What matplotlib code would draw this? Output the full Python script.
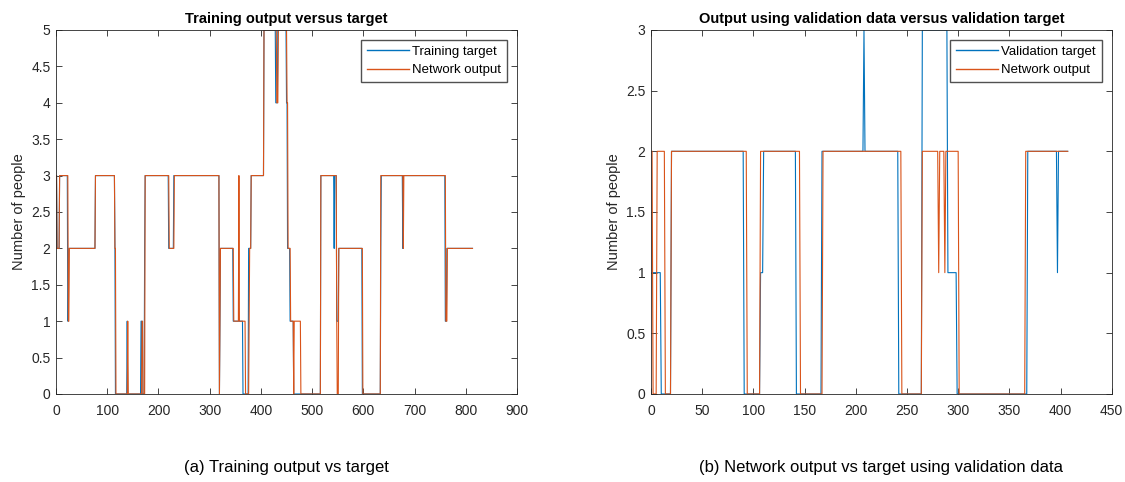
import numpy as np
import matplotlib.pyplot as plt

plt.rcParams['font.family'] = ['Liberation Sans', 'DejaVu Sans']

# step data stored as (first sample index, level) change points
train_target_starts = [1, 2, 7, 23, 25, 77, 115, 116, 139, 140,
                       166, 168, 173, 174, 220, 230, 319, 320, 321, 346,
                       365, 376, 381, 406, 429, 433, 450, 452, 457, 464,
                       517, 543, 544, 548, 552, 598, 634, 635, 677, 678,
                       760, 763]
train_target_levels = [3, 2, 3, 1, 2, 3, 2, 0, 1, 0,
                       1, 0, 2, 3, 2, 3, 0, 1, 2, 1,
                       0, 2, 3, 5, 4, 5, 4, 2, 1, 0,
                       3, 2, 3, 1, 2, 0, 2, 3, 2, 3,
                       1, 2]

train_output_starts = [1, 2, 7, 24, 26, 77, 115, 117, 140, 141,
                       168, 170, 174, 221, 231, 319, 320, 321, 347, 357,
                       358, 370, 377, 378, 381, 406, 431, 434, 451, 453,
                       458, 464, 465, 478, 517, 548, 549, 552, 599, 634,
                       678, 679, 761, 764]
train_output_levels = [3, 2, 3, 1, 2, 3, 2, 0, 1, 0,
                       1, 0, 3, 2, 3, 0, 1, 2, 1, 3,
                       1, 0, 1, 2, 3, 5, 4, 5, 4, 2,
                       1, 0, 1, 0, 3, 1, 0, 2, 0, 3,
                       2, 3, 1, 2]
n_train = 813

val_target_starts = [1, 10, 20, 91, 107, 110, 142, 167, 208, 209,
                     242, 265, 290, 299, 368, 397, 398]
val_target_levels = [1, 0, 2, 0, 1, 2, 0, 2, 3, 2,
                     0, 3, 1, 0, 2, 1, 2]

val_output_starts = [1, 2, 6, 14, 20, 94, 107, 146, 168, 245,
                     265, 281, 282, 287, 288, 301, 366]
val_output_levels = [2, 0, 2, 0, 2, 0, 2, 0, 2, 0,
                     2, 1, 2, 1, 2, 0, 2]
n_val = 407

BLUE = '#0072BD'
ORANGE = '#D95319'
AXC = '#262626'


def expand(starts, levels, n):
    bounds = list(starts) + [n + 1]
    counts = np.diff(bounds)
    return np.repeat(levels, counts)


def style_axes(ax, xmax, xstep, ymax):
    ax.set_xlim(0, xmax)
    ax.set_ylim(0, ymax)
    ax.set_xticks(np.arange(0, xmax + 1, xstep))
    ax.set_yticks(np.arange(0, ymax + 0.01, 0.5))
    ax.set_yticklabels(['%g' % v for v in np.arange(0, ymax + 0.01, 0.5)])
    ax.tick_params(direction='in', top=True, right=True, length=4,
                   width=0.6, colors=AXC, labelsize=10)
    ax.tick_params(axis='x', pad=7)
    ax.tick_params(axis='y', pad=4)
    for s in ax.spines.values():
        s.set_color(AXC)
        s.set_linewidth(0.6)
    ax.set_ylabel('Number of people', fontsize=10.5, color=AXC)


def add_legend(ax):
    leg = ax.legend(loc='upper right', fontsize=9.5, frameon=True,
                    fancybox=False, edgecolor=AXC, handlelength=3.2,
                    borderpad=0.45, labelspacing=0.45, handletextpad=0.25,
                    borderaxespad=0.75)
    for line in leg.get_lines():
        line.set_linewidth(1.0)


fig = plt.figure(figsize=(11.25, 4.82), dpi=100)

ax1 = fig.add_axes([0.0498, 0.1826, 0.4098, 0.7552])
x_tr = np.arange(1, n_train + 1)
ax1.plot(x_tr, expand(train_target_starts, train_target_levels, n_train),
         color=BLUE, lw=0.8, label='Training target')
ax1.plot(x_tr, expand(train_output_starts, train_output_levels, n_train),
         color=ORANGE, lw=0.8, label='Network output')
style_axes(ax1, 900, 100, 5)
ax1.set_title('Training output versus target', fontsize=10.5,
              fontweight='bold', pad=5)
add_legend(ax1)

ax2 = fig.add_axes([0.5787, 0.1826, 0.4095, 0.7552])
x_va = np.arange(1, n_val + 1)
ax2.plot(x_va, expand(val_target_starts, val_target_levels, n_val),
         color=BLUE, lw=0.8, label='Validation target')
ax2.plot(x_va, expand(val_output_starts, val_output_levels, n_val),
         color=ORANGE, lw=0.8, label='Network output')
style_axes(ax2, 450, 50, 3)
ax2.set_title('Output using validation data versus validation target',
              fontsize=10.5, fontweight='bold', pad=5)
add_legend(ax2)

fig.text(0.2547, 0.03, '(a) Training output vs target', ha='center',
         va='center', fontsize=12)
fig.text(0.7835, 0.03, '(b) Network output vs target using validation data',
         ha='center', va='center', fontsize=12)

fig.savefig('out.png', dpi=100)
